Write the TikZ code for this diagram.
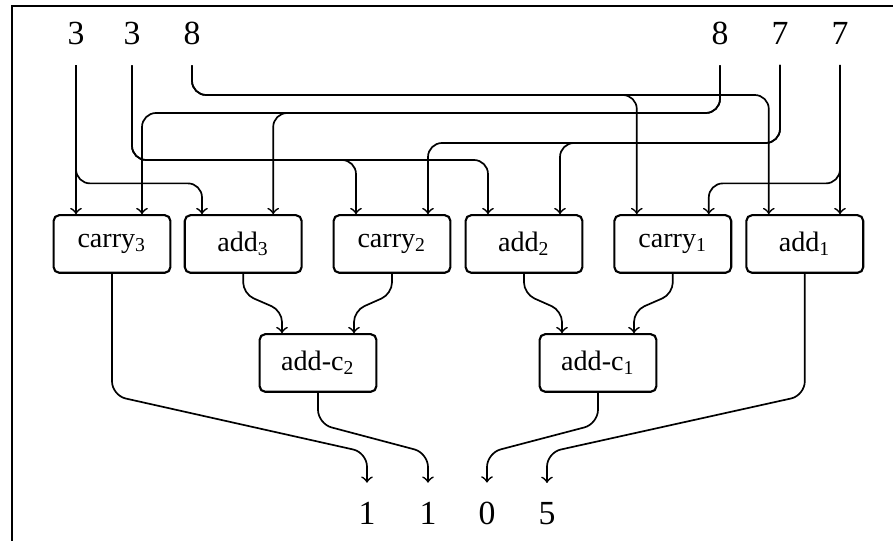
\documentclass[tikz,border=0pt]{standalone}
\usepackage{fontspec}
\setmainfont{Liberation Serif}

\begin{document}
\begin{tikzpicture}[
    box/.style={draw, line width=0.75pt, rounded corners=2pt, minimum width=1.46cm, minimum height=0.72cm, inner sep=0pt},
    num/.style={font=\large, inner sep=0pt, outer sep=0.25cm, anchor=base},
    wire/.style={->, semithick, rounded corners=5pt},
    swerve/.style={->, semithick, rounded corners=4pt}
  ]
    \useasboundingbox (0,0) rectangle (11.1625,6.7625);

    % frame
    \draw[line width=0.75pt] (0.15,0) |- (11.1625,6.6875);

    % input digits
    \node[num] (n3a) at (0.95,6.2) {3};
    \node[num] (n3b) at (1.65,6.2) {3};
    \node[num] (n8a) at (2.4,6.2) {8};
    \node[num] (n8b) at (9.0,6.2) {8};
    \node[num] (n7a) at (9.75,6.2) {7};
    \node[num] (n7b) at (10.5,6.2) {7};

    % first row
    \node[box] (carry3) at (1.40,3.7125) {carry\textsubscript{3}};
    \node[box] (add3) at (3.04,3.7125) {add\textsubscript{3}};
    \node[box] (carry2) at (4.90,3.7125) {carry\textsubscript{2}};
    \node[box] (add2) at (6.55,3.7125) {add\textsubscript{2}};
    \node[box] (carry1) at (8.41,3.7125) {carry\textsubscript{1}};
    \node[box] (add1) at (10.06,3.7125) {add\textsubscript{1}};

    % second row
    \node[box] (addc2) at (3.975,2.225) {add-c\textsubscript{2}};
    \node[box] (addc1) at (7.475,2.225) {add-c\textsubscript{1}};

    % output digits
    \node[num] (out1) at (4.5875,0.2) {1};
    \node[num] (out2) at (5.35,0.2) {1};
    \node[num] (out3) at (6.0875,0.2) {0};
    \node[num] (out4) at (6.8375,0.2) {5};

    % wires from the left digits
    \draw[wire] (n3a.south) -- (n3a.south |- carry3.north);
    \draw[wire] (n3a.south) |- (2,4.47) -| ([xshift=-0.515cm]add3.north);
    \draw[wire] (n3b.south) |- (3,4.7625) -| ([xshift=-0.45cm]carry2.north);
    \draw[wire] (n3b.south) |- (3,4.7625) -| ([xshift=-0.45cm]add2.north);
    \draw[wire] (n8a.south) |- (5,5.575) -| ([xshift=-0.45cm]carry1.north);
    \draw[wire] (n8a.south) |- (5,5.575) -| ([xshift=-0.45cm]add1.north);

    % wires from the right digits
    \draw[wire] (n8b.south) |- (5,5.35) -| ([xshift=0.375cm]carry3.north);
    \draw[wire] (n8b.south) |- (5,5.35) -| ([xshift=0.375cm]add3.north);
    \draw[wire] (n7a.south) |- (8,4.975) -| ([xshift=0.45cm]carry2.north);
    \draw[wire] (n7a.south) |- (8,4.975) -| ([xshift=0.45cm]add2.north);
    \draw[wire] (n7b.south) -- (n7b.south |- add1.north);
    \draw[wire] (n7b.south) |- (9.5,4.47) -| ([xshift=0.45cm]carry1.north);

    % into the add-c boxes
    \draw[swerve] (add3.south) -- ++(0,-0.25) -- ([xshift=-0.45cm,yshift=0.28cm]addc2.north) -- ([xshift=-0.45cm]addc2.north);
    \draw[swerve] (carry2.south) -- ++(0,-0.25) -- ([xshift=0.45cm,yshift=0.28cm]addc2.north) -- ([xshift=0.45cm]addc2.north);
    \draw[swerve] (add2.south) -- ++(0,-0.25) -- ([xshift=-0.45cm,yshift=0.28cm]addc1.north) -- ([xshift=-0.45cm]addc1.north);
    \draw[swerve] (carry1.south) -- ++(0,-0.25) -- ([xshift=0.45cm,yshift=0.28cm]addc1.north) -- ([xshift=0.45cm]addc1.north);

    % to the result
    \draw[wire] (carry3.south) -- ++(0,-1.52) -- (out1.north |- 0,1.105) -- (out1.north);
    \draw[wire] (addc2.south) -- ++(0,-0.3875) -- (out2.north |- 0,1.1) -- (out2.north);
    \draw[wire] (addc1.south) -- ++(0,-0.3875) -- (out3.north |- 0,1.1) -- (out3.north);
    \draw[wire] (add1.south) -- ++(0,-1.52) -- (out4.north |- 0,1.105) -- (out4.north);
\end{tikzpicture}
\end{document}
